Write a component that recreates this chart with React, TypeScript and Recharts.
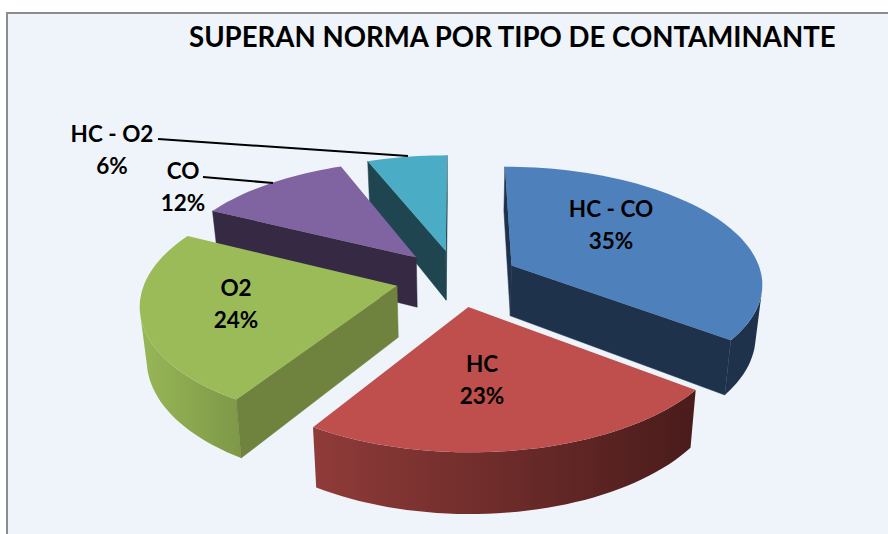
import React from 'react';
import { PieChart, Pie } from 'recharts';

const NAMES = ['HC - CO', 'HC', 'O2', 'CO', 'HC - O2'];
const VALUES = [35.4, 23.49, 23.51, 11.6, 6];
const TOP_COLORS = ['#4e80bc', '#be4f4c', '#9bbb59', '#8064a2', '#4bacc6'];
const WALL_COLORS = ['#1e324c', '#4f1f1e', '#6f823e', '#352943', '#1f4650'];
// rim shading, left to right
const RIM_LEFT = ['#1e324c', '#8f3b39', '#96b556', '#352943', '#1f4650'];
const RIM_RIGHT = ['#1e324c', '#4a1c1b', '#7e9848', '#352943', '#1f4650'];
// back slices first, so the nearer ones cover them
const PAINT_ORDER = ['HC - O2', 'CO', 'HC - CO', 'O2', 'HC'];

const data = NAMES.map((name, i) => ({ name, value: VALUES[i] }));

const CENTER_X = 457;
const CENTER_Y = 278;
const RADIUS = 251;
const SQUASH = 0.462;
const EXPLODE = 0.246;
const PERSPECTIVE = 0.14;
const DEPTH = 51;
const TAPER = 0.022; // walls narrow slightly towards the bottom
const FONT = 'Lato, sans-serif';

// label centre and optional leader line, per slice
const LABEL_POS: Record<string, { x: number; y: number; line?: number[] }> = {
  'HC - CO': { x: 611, y: 208 },
  HC: { x: 482, y: 363 },
  O2: { x: 236, y: 287 },
  CO: { x: 183, y: 170, line: [203, 177, 273, 183] },
  'HC - O2': { x: 112, y: 133, line: [158, 139, 408, 156] },
};

const rad = (deg: number) => (deg * Math.PI) / 180;

function Slice3D(props: any) {
  const { cx, cy, outerRadius, startAngle, endAngle, midAngle, name } = props;
  const i = NAMES.indexOf(name);
  const a0 = 90 - startAngle;
  const a1 = 90 - endAngle;
  const mid = 90 - midAngle;
  const ox = Math.sin(rad(mid)) * EXPLODE;
  const oy = -Math.cos(rad(mid)) * EXPLODE;

  // polar point on the slice to screen, h = how far down the wall
  const project = (a: number, r: number, h: number) => {
    const u = ox + Math.sin(rad(a)) * r;
    const v = oy - Math.cos(rad(a)) * r;
    const s = 1 / (1 - PERSPECTIVE * v);
    return [
      cx + outerRadius * u * s * (1 - TAPER * h),
      cy + outerRadius * SQUASH * v * s + h * DEPTH * s,
    ];
  };

  const steps = Math.ceil((a1 - a0) / 2);
  const arc = (h: number) => {
    const pts = [];
    for (let k = 0; k <= steps; k++) pts.push(project(a0 + ((a1 - a0) * k) / steps, 1, h));
    return pts;
  };
  const toPath = (pts: number[][]) =>
    'M' + pts.map((p) => p[0].toFixed(1) + ',' + p[1].toFixed(1)).join('L') + 'Z';

  const topArc = arc(0);
  const botArc = arc(1);
  const apex = project(0, 0, 0);
  const apexLow = project(0, 0, 1);
  const xs = botArc.map((p) => p[0]);
  const gradId = 'rim-' + i;

  // a straight wall shows only when the top face lies above its edge
  const midRim = project((a0 + a1) / 2, 1, 0);
  const showsWall = (edge: number[]) => {
    const ex = edge[0] - apex[0];
    const ey = edge[1] - apex[1];
    const side = ex * (midRim[1] - apex[1]) - ey * (midRim[0] - apex[0]);
    return side * ex < 0;
  };

  // the rim folds over at the silhouette, keep only the part facing the viewer
  const facing = (k: number) => {
    const dx = topArc[k + 1][0] - topArc[k][0];
    const dy = topArc[k + 1][1] - topArc[k][1];
    const wx = botArc[k][0] - topArc[k][0];
    const wy = botArc[k][1] - topArc[k][1];
    return dx * wy - dy * wx < 0;
  };
  const rimRuns: number[][] = [];
  for (let k = 0; k < steps; k++) {
    if (!facing(k)) continue;
    const last = rimRuns[rimRuns.length - 1];
    if (last && last[1] === k) last[1] = k + 1;
    else rimRuns.push([k, k + 1]);
  }

  return (
    <g>
      <defs>
        <linearGradient
          id={gradId}
          gradientUnits="userSpaceOnUse"
          x1={Math.min(...xs)}
          x2={Math.max(...xs)}
          y1={0}
          y2={0}
        >
          <stop offset="0%" stopColor={RIM_LEFT[i]} />
          <stop offset="100%" stopColor={RIM_RIGHT[i]} />
        </linearGradient>
      </defs>
      {rimRuns.map(([from, to]) => (
        <path
          key={from}
          d={toPath([...topArc.slice(from, to + 1), ...botArc.slice(from, to + 1).reverse()])}
          fill={`url(#${gradId})`}
        />
      ))}
      {[topArc[0], topArc[steps]].map((edge, k) =>
        showsWall(edge) ? (
          <path
            key={k}
            d={toPath([apex, edge, k === 0 ? botArc[0] : botArc[steps], apexLow])}
            fill={WALL_COLORS[i]}
            stroke={WALL_COLORS[i]}
            strokeWidth={0.5}
          />
        ) : null
      )}
      <path d={toPath([apex, ...topArc])} fill={TOP_COLORS[i]} />
    </g>
  );
}

function SliceLabel(props: any) {
  const { name, percent } = props;
  const pos = LABEL_POS[name];
  const style = { fontFamily: FONT, fontWeight: 700, fontSize: 22.5, fill: '#000' };
  return (
    <g>
      {pos.line && (
        <line
          x1={pos.line[0]}
          y1={pos.line[1]}
          x2={pos.line[2]}
          y2={pos.line[3]}
          stroke="#000"
          strokeWidth={2}
        />
      )}
      <text x={pos.x} y={pos.y} textAnchor="middle" dominantBaseline="central" style={style}>
        {name}
      </text>
      <text x={pos.x} y={pos.y + 32} textAnchor="middle" dominantBaseline="central" style={style}>
        {Math.round(percent * 100)}%
      </text>
    </g>
  );
}

export default function App() {
  return (
    <div style={{ position: 'absolute', left: 0, top: 0, width: 888, height: 534, overflow: 'hidden', background: '#fff' }}>
      <div
        style={{
          position: 'absolute',
          left: 6,
          top: 12,
          width: 880,
          height: 520,
          background: '#eff4fb',
          borderLeft: '2px solid #8c8c8c',
          borderTop: '2px solid #8c8c8c',
        }}
      />
      <div
        style={{
          position: 'absolute',
          left: 189,
          top: 20,
          fontFamily: FONT,
          fontWeight: 700,
          fontSize: 27.6,
          color: '#000',
          whiteSpace: 'nowrap',
        }}
      >
        SUPERAN NORMA POR TIPO DE CONTAMINANTE
      </div>
      <div style={{ position: 'absolute', left: 0, top: 0 }}>
        <PieChart width={888} height={534} margin={{ top: 0, right: 0, bottom: 0, left: 0 }}>
          {PAINT_ORDER.map((sliceName) => (
            <Pie
              key={sliceName}
              data={data}
              dataKey="value"
              nameKey="name"
              cx={CENTER_X}
              cy={CENTER_Y}
              outerRadius={RADIUS}
              startAngle={90}
              endAngle={-270}
              stroke="none"
              isAnimationActive={false}
              shape={(p: any) => (p.name === sliceName ? <Slice3D {...p} /> : <g />)}
            />
          ))}
          <Pie
            data={data}
            dataKey="value"
            nameKey="name"
            cx={CENTER_X}
            cy={CENTER_Y}
            outerRadius={RADIUS}
            startAngle={90}
            endAngle={-270}
            stroke="none"
            isAnimationActive={false}
            shape={() => <g />}
            label={SliceLabel}
            labelLine={false}
          />
        </PieChart>
      </div>
    </div>
  );
}
